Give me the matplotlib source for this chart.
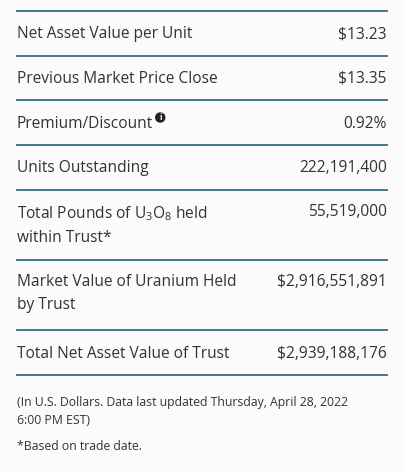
import matplotlib.pyplot as plt
from matplotlib.patches import Circle

plt.rcParams['font.family'] = ['Open Sans', 'DejaVu Sans']
plt.rcParams['mathtext.fontset'] = 'custom'
plt.rcParams['mathtext.rm'] = 'Open Sans'
plt.rcParams['mathtext.it'] = 'Open Sans'

labels = [
    "Net Asset Value per Unit",
    "Previous Market Price Close",
    "Premium/Discount",
    "Units Outstanding",
    "Total Pounds of U$_\\mathrm{3}$O$_\\mathrm{8}$ held\nwithin Trust*",
    "Market Value of Uranium Held\nby Trust",
    "Total Net Asset Value of Trust",
]
values = ["$13.23", "$13.35", "0.92%", "222,191,400", "55,519,000",
          "$2,916,551,891", "$2,939,188,176"]
notes = ["(In U.S. Dollars. Data last updated Thursday, April 28, 2022\n6:00 PM EST)",
         "*Based on trade date."]

# row boundaries in pixels
lines = [11, 56, 100, 145, 190, 260, 330, 375]
line_color = "#2d6e84"
text_color = "#333333"
fs = 11.2

fig = plt.figure(figsize=(4.06, 4.72), dpi=100)
fig.patch.set_facecolor("#fbfbfb")
ax = fig.add_axes([0, 0, 1, 1])
ax.set_xlim(0, 406)
ax.set_ylim(472, 0)
ax.axis("off")

for y in lines:
    ax.plot([17, 387], [y, y], color=line_color, lw=1.3)

renderer = fig.canvas.get_renderer()
for i, (lab, val) in enumerate(zip(labels, values)):
    top = lines[i]
    if "\n" in lab:
        ax.text(17, top + 14, lab, fontsize=fs, color=text_color, va="top",
                ha="left", linespacing=1.6)
        ax.text(387, top + 14, val, fontsize=fs, color=text_color, va="top", ha="right")
    else:
        ty = (top + lines[i + 1]) / 2 + 1
        t = ax.text(17, ty, lab, fontsize=fs, color=text_color, va="center", ha="left")
        ax.text(387, ty, val, fontsize=fs, color=text_color, va="center", ha="right")
        if lab == "Premium/Discount":
            bb = t.get_window_extent(renderer)
            cx = bb.x1 + 7
            ax.add_patch(Circle((cx, ty - 6), 4.5, color="#222222"))
            ax.text(cx, ty - 6, "i", fontsize=6, color="white", ha="center",
                    va="center", fontweight="bold")

ax.text(17, 396, notes[0], fontsize=8.8, color=text_color, va="top", ha="left",
        linespacing=1.55)
ax.text(17, 440, notes[1], fontsize=8.8, color=text_color, va="top", ha="left")

fig.savefig("out.png", dpi=100, facecolor=fig.get_facecolor())
